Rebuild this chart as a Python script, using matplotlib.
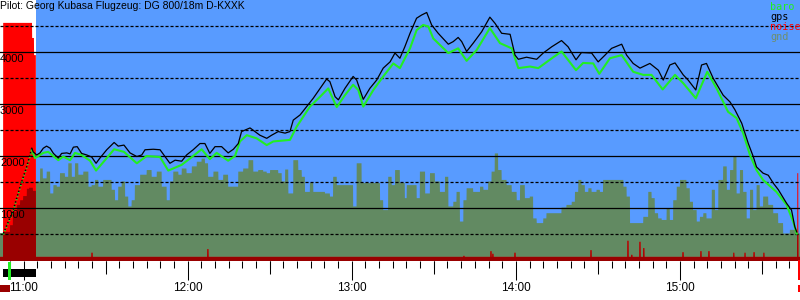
import numpy as np
import matplotlib
matplotlib.use("Agg")
import matplotlib.pyplot as plt
import matplotlib.transforms as mtransforms
from matplotlib.patches import Rectangle
from matplotlib.ticker import MultipleLocator

plt.rcParams["lines.scale_dashes"] = False

# time in minutes after 11:00, altitudes in m
gps_t = [-7.4, -3.8, -1.3, 1.1, 3.0, 3.5, 4.8, 6.0, 7.2, 8.4, 9.7, 10.9, 12.7, 13.9, 15.8, 17.0, 18.2, 19.6,
         21.2, 23.1, 24.9, 26.5, 27.9, 30.4, 33.1, 34.6, 36.7, 38.9, 41.4, 43.2, 44.4, 47.4, 49.9, 51.7, 53.5,
         55.4, 57.8, 59.6, 62.0, 64.5, 66.3, 68.1, 70.0, 72.4, 74.8, 76.7, 78.5, 79.7, 82.8, 84.6, 86.4, 88.9,
         90.7, 93.1, 95.6, 97.4, 98.6, 101.1, 103.5, 105.9, 108.4, 110.8, 112.0, 113.9, 115.1, 117.5, 120.5,
         121.8, 124.2, 126.6, 129.1, 131.5, 134.0, 135.8, 137.6, 139.4, 141.3, 143.7, 145.5, 147.4, 149.2,
         151.6, 155.3, 157.1, 158.9, 160.2, 162.0, 164.4, 167.5, 170.5, 172.4, 174.8, 177.9, 179.7, 180.9,
         183.9, 187.6, 190.0, 193.1, 196.7, 199.1, 202.0, 204.0, 207.7, 210.1, 212.6, 215.0, 218.7, 220.5,
         222.9, 225.4, 229.0, 232.1, 233.9, 236.3, 238.2, 241.2, 243.0, 245.8, 247.9, 249.7, 252.2, 255.8,
         258.3, 260.1, 262.6, 265.0, 266.8, 268.0, 270.4, 272.3, 274.1, 276.0, 279.0, 280.8, 282.0, 282.7]
gps_alt = [510, 960, 1410, 1790, 2150, 2080, 2020, 2060, 2150, 2190, 2150, 2050, 1960, 2050, 2060, 2040, 2170,
           2180, 2050, 2020, 1980, 1860, 1960, 2120, 2260, 2190, 2210, 2060, 1990, 2020, 2120, 2130, 2120, 1990,
           1860, 1920, 1900, 2020, 2120, 2240, 2240, 2050, 2180, 2180, 2060, 2130, 2240, 2470, 2540, 2470, 2400,
           2340, 2400, 2470, 2440, 2470, 2690, 2790, 2950, 3110, 3300, 3480, 3430, 3140, 3080, 3300, 3530, 3460,
           3090, 3300, 3460, 3690, 3810, 3980, 3880, 4100, 4360, 4650, 4710, 4760, 4520, 4360, 4150, 4200, 4280,
           4200, 4010, 4170, 4390, 4670, 4550, 4360, 4340, 3940, 3860, 3900, 3860, 3980, 4100, 4220, 4100, 3850,
           3990, 3980, 3810, 3940, 4070, 4150, 3940, 3780, 3690, 3780, 3650, 3460, 3750, 3790, 3560, 3460, 3270,
           3750, 3780, 3490, 3170, 3040, 2890, 2630, 2240, 1990, 1790, 1670, 1630, 1480, 1350, 1090, 960, 640, 540]

baro_t = [-7.4, -3.8, -1.3, 1.1, 3.0, 4.2, 7.2, 9.0, 12.7, 14.5, 17.0, 18.8, 21.2, 24.3, 26.5, 30.4, 33.1, 36.7,
          41.4, 45.0, 49.9, 52.9, 57.8, 62.0, 65.1, 68.1, 70.6, 74.8, 77.3, 79.1, 81.6, 85.2, 88.9, 91.3, 97.4,
          99.8, 104.7, 108.4, 111.4, 114.5, 117.5, 120.5, 122.4, 124.2, 127.9, 131.5, 135.2, 137.6, 141.3, 143.7,
          146.1, 148.0, 149.8, 155.3, 158.9, 162.0, 165.7, 170.5, 174.2, 178.5, 180.9, 185.2, 188.2, 193.7, 196.7,
          202.0, 204.6, 208.3, 210.5, 214.4, 218.7, 222.9, 226.6, 229.6, 233.7, 238.2, 241.2, 245.8, 250.0, 253.4,
          257.6, 260.7, 263.1, 265.6, 268.0, 270.4, 275.3, 279.0, 281.4, 282.7]
baro_alt = [490, 940, 1390, 1770, 2110, 1960, 2060, 2080, 1920, 1990, 1920, 2060, 2020, 1910, 1720, 1960, 2130,
            2080, 1860, 2000, 1980, 1720, 1830, 2000, 2130, 1940, 2060, 1910, 2000, 2280, 2400, 2340, 2210, 2280,
            2310, 2560, 2950, 3140, 3300, 2940, 3170, 3370, 3270, 2950, 3270, 3530, 3780, 3690, 4070, 4420, 4520,
            4490, 4260, 3980, 4070, 3830, 4040, 4460, 4170, 4070, 3690, 3720, 3690, 3900, 4010, 3650, 3790, 3780,
            3580, 3880, 3940, 3620, 3560, 3560, 3280, 3560, 3400, 3110, 3620, 3300, 2850, 2730, 2440, 2020, 1730,
            1540, 1310, 1060, 740, 510]

gnd_t = [-8.6, -7.5, -5.0, -3.9, -2.4, -1.3, -0.2, 1.2, 2.0, 3.4, 4.5, 6.0, 7.0, 8.4, 9.7, 10.9, 12.1, 13.3,
         15.1, 16.3, 17.6, 18.8, 20.0, 21.8, 23.7, 24.9, 26.1, 27.3, 29.1, 32.2, 33.4, 34.6, 35.9, 37.1, 38.3,
         39.5, 40.7, 42.6, 45.0, 46.8, 48.7, 50.5, 52.3, 53.5, 54.7, 56.6, 57.8, 59.6, 61.5, 63.3, 65.1, 66.3,
         67.5, 69.4, 71.2, 73.0, 74.8, 78.5, 80.3, 82.2, 84.0, 85.8, 87.6, 88.9, 90.1, 93.1, 94.4, 95.6, 96.8,
         98.6, 100.4, 101.7, 102.9, 104.7, 105.9, 110.2, 112.0, 113.2, 114.5, 120.5, 121.8, 123.6, 130.3, 131.5,
         133.3, 134.6, 135.8, 137.6, 139.4, 140.1, 143.7, 144.9, 146.8, 148.6, 150.4, 152.2, 154.1, 155.3, 157.1,
         158.3, 159.5, 160.8, 162.0, 164.4, 166.9, 168.1, 169.9, 171.1, 172.3, 173.5, 174.8, 176.6, 178.5, 180.3,
         181.5, 183.3, 185.1, 186.3, 187.6, 190.0, 191.2, 196.7, 198.5, 200.4, 201.6, 202.8, 204.0, 205.2, 206.5,
         207.7, 209.5, 210.7, 211.9, 219.3, 220.5, 221.7, 226.6, 228.4, 229.6, 230.8, 232.0, 233.3, 235.1, 236.3,
         237.5, 238.8, 240.0, 242.4, 243.6, 244.8, 246.1, 247.3, 248.5, 249.7, 251.6, 252.8, 254.0, 255.8, 257.1,
         258.3, 259.5, 260.7, 261.9, 263.1, 264.4, 265.6, 266.8, 268.0, 269.2, 270.4, 272.3, 274.1, 275.9, 277.7,
         280.2, 282.6]
gnd_alt = [520, 540, 670, 920, 1060, 1150, 1230, 1370, 1390, 1330, 1510, 1760, 1570, 1700, 1280, 1440, 1410, 1670,
           1600, 1860, 1600, 1860, 1640, 1700, 1410, 1440, 1540, 1410, 1540, 1350, 1150, 1410, 1510, 1220, 1030,
           1150, 1440, 1640, 1730, 1600, 1700, 1410, 1150, 1510, 1700, 1640, 1760, 1670, 1800, 1890, 1950, 1860,
           1600, 1700, 1540, 1640, 1410, 1700, 1760, 1920, 1700, 1730, 1700, 1670, 1730, 1670, 1510, 1740, 1280,
           1920, 1730, 1600, 1310, 1480, 1310, 1280, 1220, 1600, 1440, 1030, 1860, 1480, 1150, 960,
           1600, 1440, 1730, 1480, 1190, 1440, 1190, 1700, 1280, 1670, 1510, 1310, 1600, 1030, 1120,
           1310, 740, 1150, 1380, 1310, 1410, 1350, 1510, 1700, 2050, 1730, 1540, 1440, 1310, 1150,
           1440, 1190, 1220, 800, 710, 800, 900, 1010, 1060, 1120, 1310, 1540, 1440, 1310, 1380,
           1310, 1350, 1310, 1540, 1410, 1220, 710, 830, 1310, 1190, 900, 800, 770, 990, 770,
           1150, 1410, 1540, 1380, 1120, 960, 740, 830, 900, 800, 1350, 960, 1540, 1800, 1350,
           1730, 1990, 1280, 1730, 1310, 800, 1350, 960, 1440, 1030, 1220, 1060, 900, 710, 510,
           580, 510]

noise_t = [-8.6, -7.5, 3.1, 3.8, 4.5]
noise_lvl = [60, 4560, 4270, 3940, 60]
spike_t = [25.0, 67.4, 161.0, 170.9, 171.6, 179.7, 207.5, 221.0, 222.4, 225.4, 226.8, 241.1, 247.7, 250.6,
           259.7, 263.8, 267.1, 270.7, 283.1]
spike_lvl = [140, 210, 80, 170, 120, 140, 190, 370, 100, 350, 230, 150, 170, 170, 140, 140, 150, 140, 1670]

engine_run = (-7.5, 4.5)
release_mark = (-5.7, -4.6)
start_mark = (-8.6, -5.0)
landing_mark = (283.1, 283.9)
hour_labels = ["11:00", "12:00", "13:00", "14:00", "15:00"]

SKY = "#589bff"
GND = "#628a62"
RED = "#ff0000"
DARKRED = "#990000"
BARO = "#22ee22"

t0, t1 = -8.63, 283.9
y0, y1 = -19, 5000

fig = plt.figure(figsize=(8, 3), dpi=100)
ax = fig.add_axes([0, 1 - 261 / 300, 1, 261 / 300])
ax.set_xlim(t0, t1)
ax.set_ylim(y0, y1)
for s in ax.spines.values():
    s.set_visible(False)

tt = np.linspace(t0, t1, 5000)


def step_at(tx, vx):
    i = np.searchsorted(tx, tt, side="right") - 1
    return np.asarray(vx, dtype=float)[np.clip(i, 0, None)]


gnd = step_at(gnd_t, gnd_alt)
noise = step_at(noise_t, noise_lvl)
for t, v in zip(spike_t, spike_lvl):
    noise = np.where(np.abs(tt - t) < 0.2, np.maximum(noise, v), noise)

ax.axvspan(noise_t[-1], t1, color=SKY, lw=0, zorder=0)
ax.fill_between(tt, y0, gnd, color=GND, lw=0, zorder=1)
ax.fill_between(tt, y0, noise, color=RED, lw=0, zorder=2)
ax.fill_between(tt, y0, np.minimum(noise, gnd), color=DARKRED, lw=0, zorder=3)

for v in range(500, 5000, 500):
    if v % 1000 == 0:
        ax.axhline(v, color="black", lw=0.9, zorder=4)
        ax.annotate(str(v), xy=(0, v), xycoords=ax.get_yaxis_transform(), xytext=(0, -2),
                    textcoords="offset pixels", ha="left", va="top", fontsize=8,
                    family="Liberation Sans", zorder=6)
    else:
        ax.axhline(v, color="black", lw=0.9, dashes=(2.2, 1.4), zorder=4)

ax.plot(baro_t[:5], baro_alt[:5], ":", color=BARO, lw=1.3, zorder=5)
ax.plot(gps_t[:5], gps_alt[:5], ":", color="black", lw=1.1, zorder=5)
ax.plot(baro_t[4:], baro_alt[4:], color=BARO, lw=1.5, zorder=5)
ax.plot(gps_t[4:], gps_alt[4:], color="black", lw=0.9, zorder=5)

ax.set_yticks([])
ax.set_xticks([0, 60, 120, 180, 240])
ax.set_xticklabels(hour_labels, family="Liberation Sans", fontsize=8.5)
ax.xaxis.set_minor_locator(MultipleLocator(5))
ax.tick_params(axis="x", which="major", length=13.7, width=0.75, pad=1.5)
ax.tick_params(axis="x", which="minor", length=5, width=0.75)
half = ax.secondary_xaxis("bottom")
half.set_xticks([30, 90, 150, 210, 270])
half.tick_params(length=9.4, width=0.75, labelbottom=False)
half.spines["bottom"].set_visible(False)

# markers under the time axis
under = mtransforms.blended_transform_factory(ax.transData, fig.transFigure)
for (a, b), (top, bot), col in [(engine_run, (269, 277), "black"),
                                (release_mark, (262, 280), BARO),
                                (start_mark, (285, 292), DARKRED),
                                (landing_mark, (260, 280), RED),
                                (landing_mark, (285, 292), RED)]:
    fig.add_artist(Rectangle((a, 1 - bot / 300), b - a, (bot - top) / 300, transform=under,
                             color=col, lw=0, clip_on=False, zorder=10))

fig.text(0.0, 1 - 1 / 300, "Pilot: Georg Kubasa Flugzeug: DG 800/18m D-KXXK", ha="left", va="top",
         fontsize=7.5, family="Liberation Sans", zorder=10)
for i, (name, col) in enumerate([("baro", BARO), ("gps", "black"), ("noise", RED), ("gnd", "#6e8e6e")]):
    fig.text(770 / 800, 1 - (7 + 10 * i) / 300, name, color=col, ha="left", va="center",
             fontsize=7.3, family="DejaVu Sans Mono", zorder=10)

fig.savefig("out.png", dpi=100)
